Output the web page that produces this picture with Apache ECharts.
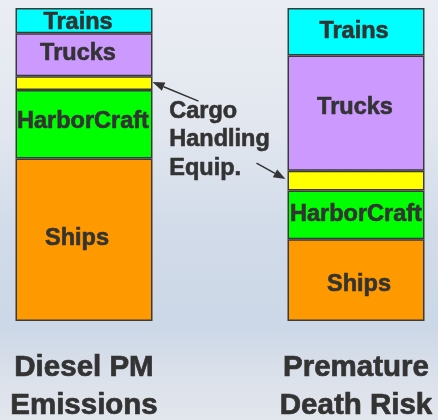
<!DOCTYPE html>
<html>
<head>
<meta charset="utf-8">
<script src="https://cdn.jsdelivr.net/npm/echarts@6/dist/echarts.min.js"></script>
<style>
html,body{margin:0;padding:0;}
#main{width:438px;height:420px;}
</style>
</head>
<body>
<div id="main"></div>
<script>
const categories = ['Diesel PM\nEmissions', 'Premature\nDeath Risk'];
const seriesNames = ['Ships', 'HarborCraft', 'Cargo Handling Equip.', 'Trucks', 'Trains'];
const ships = [51.9, 26.1];
const harborCraft = [21.9, 15.6];
const cargoHandling = [4.4, 6.3];
const trucks = [13.7, 36.8];
const trains = [8.1, 15.2];
const annotationText = 'Cargo\nHandling\nEquip.';

const values = [ships, harborCraft, cargoHandling, trucks, trains];
const colors = ['#ff9900', '#00ff00', '#ffff00', '#cc99ff', '#00ffff'];
const showLabel = [true, true, false, true, true];
// label offsets [dx, dy] per series per bar (styling only)
const labelOffsets = [
  [[-7, -1], [3, 4]],
  [[-1, -3], [0, 0]],
  [[0, 0], [0, 0]],
  [[-6, -1], [-1, -6]],
  [[-6, 2], [-2, 0]]
];

const chart = echarts.init(document.getElementById('main'));
const FONT = '"Liberation Sans", Arial, sans-serif';
const TXT = '#333333';

const series = values.map((arr, si) => ({
  name: seriesNames[si],
  type: 'bar',
  stack: 'total',
  barWidth: 137,
  data: arr.map((v, ci) => ({
    value: v,
    label: { offset: labelOffsets[si][ci] }
  })),
  itemStyle: { color: colors[si], borderColor: '#3a3a3a', borderWidth: 1.5 },
  label: {
    show: showLabel[si],
    position: 'inside',
    formatter: seriesNames[si],
    fontFamily: FONT,
    fontWeight: 'bold',
    fontSize: 23.5,
    color: TXT,
    textBorderColor: TXT,
    textBorderWidth: 0.6
  },
  emphasis: { disabled: true },
  animation: false
}));

chart.setOption({
  animation: false,
  backgroundColor: {
    type: 'linear', x: 0, y: 0, x2: 0, y2: 1,
    colorStops: [
      { offset: 0, color: '#eaedf3' },
      { offset: 0.3, color: '#e2e7ef' },
      { offset: 0.55, color: '#d1dbe9' },
      { offset: 0.78, color: '#ccd7e7' },
      { offset: 0.88, color: '#dae0ea' },
      { offset: 1, color: '#e2e6ed' }
    ]
  },
  grid: { left: -52, width: 544, top: 8, height: 313, containLabel: false, outerBoundsMode: 'none' },
  xAxis: {
    type: 'category',
    data: categories,
    axisLine: { show: false },
    axisTick: { show: false },
    axisLabel: {
      margin: 28,
      fontFamily: FONT,
      fontWeight: 'bold',
      fontSize: 29.5,
      lineHeight: 38,
      color: TXT,
      textBorderColor: TXT,
      textBorderWidth: 0.7,
      interval: 0,
      hideOverlap: false
    }
  },
  yAxis: {
    type: 'value', min: 0, max: 100, show: false,
    splitLine: { show: false }
  },
  series: series
});

// annotation arrows pointing at the cargo-handling segments
function segMid(ci) {
  const base = ships[ci] + harborCraft[ci];
  return chart.convertToPixel({ gridIndex: 0 }, [ci, base + cargoHandling[ci] / 2]);
}
const p0 = segMid(0), p1 = segMid(1);
const tip1 = [p0[0] + 68.5, p0[1] - 1];
const tail1 = [tip1[0] + 46, tip1[1] + 19];
const tip2 = [p1[0] - 70.5, p1[1] - 1.5];
const tail2 = [tip2[0] - 29, tip2[1] - 16];

function arrow(tail, tip) {
  const dx = tip[0] - tail[0], dy = tip[1] - tail[1];
  const len = Math.sqrt(dx * dx + dy * dy);
  const ux = dx / len, uy = dy / len;
  const hl = 12, hw = 4.5;
  const bx = tip[0] - ux * hl, by = tip[1] - uy * hl;
  return [
    { type: 'line', shape: { x1: tail[0], y1: tail[1], x2: bx, y2: by },
      style: { stroke: '#333', lineWidth: 1.5 } },
    { type: 'polygon', shape: { points: [
        tip, [bx - uy * hw, by + ux * hw], [bx + uy * hw, by - ux * hw]
      ] }, style: { fill: '#333' } }
  ];
}

chart.setOption({
  graphic: [
    ...arrow(tail1, tip1),
    ...arrow(tail2, tip2),
    {
      type: 'text', left: 169, top: 97,
      style: {
        text: annotationText,
        font: 'bold 23.5px ' + FONT,
        lineHeight: 28.5,
        fill: TXT,
        stroke: TXT,
        lineWidth: 0.6
      }
    }
  ]
});
</script>
</body>
</html>
